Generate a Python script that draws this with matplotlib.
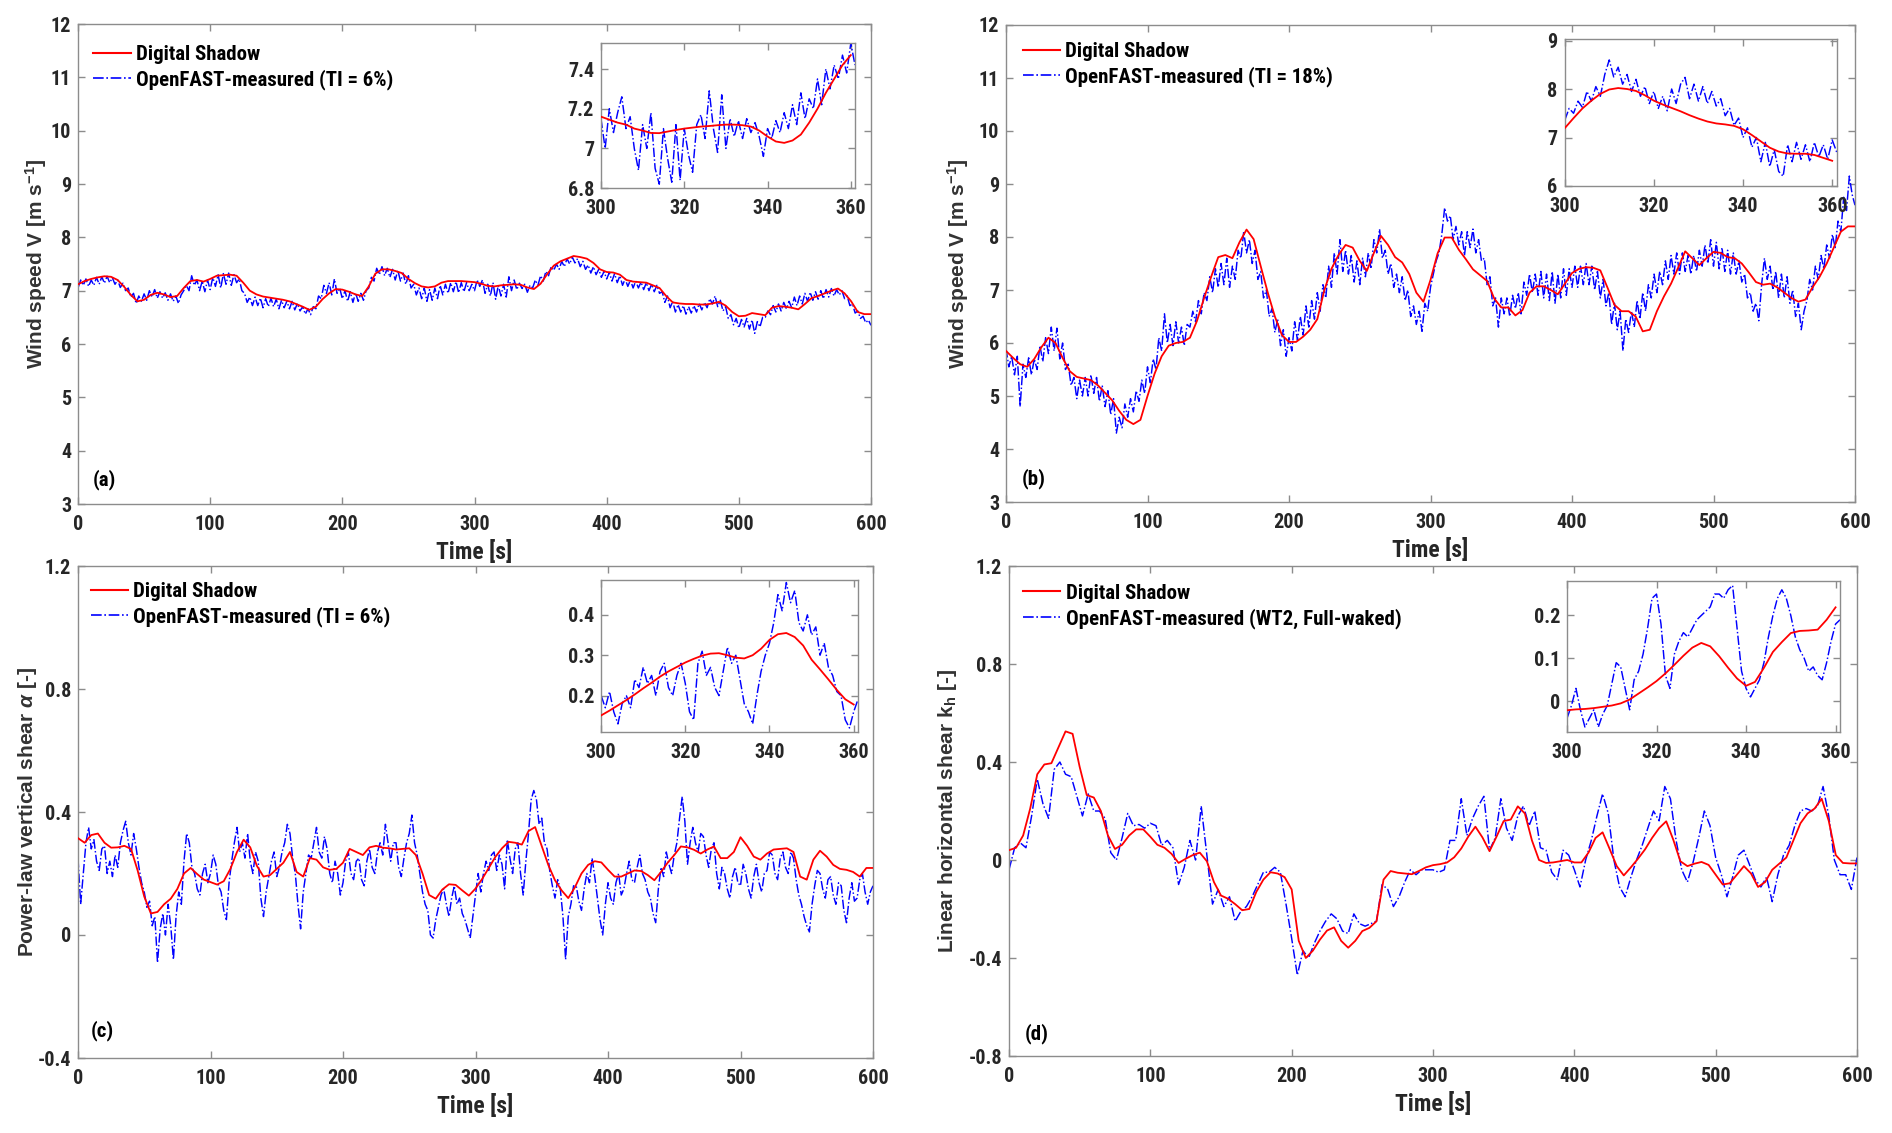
import numpy as np
import matplotlib
matplotlib.use("Agg")
import matplotlib.pyplot as plt
from matplotlib.ticker import FuncFormatter
from matplotlib.lines import Line2D

plt.rcParams['font.family'] = ['Roboto Condensed', 'Liberation Sans', 'DejaVu Sans']
plt.rcParams['font.weight'] = 'bold'
plt.rcParams['axes.labelweight'] = 'bold'
plt.rcParams['axes.unicode_minus'] = False
plt.rcParams['mathtext.fontset'] = 'custom'
plt.rcParams['mathtext.rm'] = 'Liberation Sans:bold'
plt.rcParams['mathtext.bf'] = 'Liberation Sans:bold'
plt.rcParams['mathtext.it'] = 'Liberation Sans:italic'

# ---------------- data ----------------
# Panel (a): wind speed, TI = 6 %  (red every 5 s, blue every 2 s)
red_a = [7.12, 7.18, 7.22, 7.25, 7.27, 7.26, 7.2, 7.07, 6.92, 6.8,
         6.83, 6.92, 6.96, 6.93, 6.88, 6.9, 7.05, 7.18, 7.2, 7.17,
         7.22, 7.28, 7.29, 7.3, 7.28, 7.15, 7.0, 6.93, 6.89, 6.87,
         6.85, 6.83, 6.8, 6.75, 6.7, 6.64, 6.7, 6.84, 6.95, 7.03,
         7.02, 6.98, 6.93, 6.9, 7.08, 7.32, 7.4, 7.4, 7.37, 7.33,
         7.22, 7.14, 7.08, 7.06, 7.08, 7.15, 7.18, 7.18, 7.18, 7.17,
         7.16, 7.13, 7.09, 7.08, 7.1, 7.11, 7.12, 7.11, 7.06, 7.03,
         7.13, 7.31, 7.47, 7.55, 7.6, 7.65, 7.63, 7.6, 7.52, 7.4,
         7.35, 7.34, 7.3, 7.2, 7.17, 7.16, 7.15, 7.1, 7.05, 6.9,
         6.78, 6.76, 6.75, 6.75, 6.74, 6.74, 6.76, 6.79, 6.72, 6.6,
         6.52, 6.53, 6.58, 6.56, 6.54, 6.68, 6.71, 6.7, 6.68, 6.65,
         6.75, 6.86, 6.9, 6.95, 7.0, 7.04, 6.95, 6.8, 6.6, 6.56,
         6.56]
blue_a = [7.05, 7.2, 7.1, 7.22, 7.08, 7.2, 7.1, 7.25, 7.12, 7.26,
          7.14, 7.27, 7.15, 7.24, 7.12, 7.2, 7.06, 7.14, 7.0, 7.05,
          6.88, 6.95, 6.76, 6.9, 6.8, 6.94, 6.82, 7.0, 6.88, 7.02,
          6.86, 6.98, 6.86, 6.96, 6.82, 6.94, 6.8, 6.9, 6.76, 6.92,
          7.0, 7.1, 7.0, 7.28, 7.1, 7.2, 7.0, 7.18, 6.98, 7.2,
          7.02, 7.25, 7.08, 7.3, 7.05, 7.32, 7.12, 7.33, 7.1, 7.3,
          7.15, 7.22, 7.0, 6.95, 6.78, 6.88, 6.72, 6.88, 6.72, 6.86,
          6.68, 6.85, 6.7, 6.86, 6.7, 6.84, 6.66, 6.82, 6.68, 6.8,
          6.66, 6.8, 6.64, 6.76, 6.62, 6.7, 6.56, 6.66, 6.55, 6.7,
          6.66, 6.9, 6.85, 7.1, 6.95, 7.15, 6.92, 7.22, 6.95, 7.05,
          6.85, 7.0, 6.8, 6.98, 6.78, 6.96, 6.8, 6.95, 6.82, 7.0,
          7.05, 7.25, 7.18, 7.42, 7.3, 7.45, 7.28, 7.42, 7.25, 7.4,
          7.2, 7.38, 7.18, 7.33, 7.12, 7.28, 7.05, 7.12, 6.92, 7.05,
          6.85, 7.05, 6.8, 7.02, 6.82, 7.05, 6.85, 7.1, 6.92, 7.12,
          6.95, 7.15, 6.98, 7.17, 6.96, 7.15, 6.98, 7.15, 7.0, 7.12,
          7.0, 7.2, 7.08, 7.2, 6.95, 7.12, 6.9, 7.15, 6.84, 7.1,
          6.9, 7.12, 6.88, 7.26, 7.0, 7.2, 7.02, 7.14, 7.04, 7.12,
          6.97, 7.1, 7.05, 7.2, 7.1, 7.28, 7.18, 7.36, 7.28, 7.45,
          7.38, 7.5, 7.4, 7.55, 7.45, 7.6, 7.5, 7.63, 7.52, 7.6,
          7.45, 7.55, 7.4, 7.48, 7.33, 7.45, 7.3, 7.4, 7.25, 7.36,
          7.22, 7.34, 7.18, 7.32, 7.15, 7.28, 7.1, 7.22, 7.08, 7.2,
          7.05, 7.18, 7.05, 7.16, 7.02, 7.15, 7.0, 7.12, 6.98, 7.1,
          6.95, 6.98, 6.78, 6.9, 6.68, 6.8, 6.6, 6.74, 6.6, 6.72,
          6.56, 6.7, 6.58, 6.72, 6.6, 6.76, 6.64, 6.78, 6.68, 6.85,
          6.75, 6.9, 6.7, 6.82, 6.62, 6.7, 6.48, 6.55, 6.36, 6.48,
          6.3, 6.46, 6.32, 6.48, 6.28, 6.45, 6.2, 6.42, 6.32, 6.5,
          6.5, 6.62, 6.55, 6.72, 6.6, 6.75, 6.62, 6.78, 6.66, 6.8,
          6.68, 6.88, 6.72, 6.9, 6.75, 6.95, 6.8, 6.97, 6.82, 6.98,
          6.84, 7.0, 6.85, 7.02, 6.88, 7.04, 6.9, 7.02, 6.92, 7.0,
          6.85, 6.9, 6.72, 6.75, 6.58, 6.62, 6.48, 6.52, 6.4, 6.45,
          6.35]
ired_a = [7.16, 7.145, 7.13, 7.12, 7.1, 7.09, 7.078, 7.077, 7.085, 7.093,
          7.1, 7.105, 7.11, 7.113, 7.117, 7.12, 7.12, 7.117, 7.11, 7.09,
          7.06, 7.035, 7.028, 7.04, 7.07, 7.13, 7.2, 7.28, 7.35, 7.42,
          7.47]
iblue_a = [7.15, 7.0, 7.2, 7.08, 7.18, 7.26, 7.1, 7.16, 7.0, 6.89,
           7.12, 7.0, 7.18, 6.9, 6.82, 7.1, 6.95, 6.83, 7.12, 6.84,
           7.1, 6.97, 6.88, 7.12, 7.17, 7.05, 7.29, 7.1, 6.98, 7.27,
           7.0, 7.15, 7.06, 7.14, 7.05, 7.15, 7.08, 7.13, 7.06, 6.96,
           7.1, 7.05, 7.14, 7.08, 7.18, 7.1, 7.22, 7.12, 7.28, 7.15,
           7.25, 7.2, 7.35, 7.22, 7.4, 7.3, 7.42, 7.35, 7.47, 7.38,
           7.53, 7.42]

# Panel (b): wind speed, TI = 18 %
red_b = [5.85, 5.72, 5.6, 5.55, 5.7, 5.92, 6.1, 6.0, 5.72, 5.47,
         5.36, 5.33, 5.3, 5.2, 5.06, 4.92, 4.72, 4.55, 4.47, 4.55,
         5.0, 5.42, 5.75, 5.95, 6.0, 6.02, 6.1, 6.42, 6.85, 7.25,
         7.62, 7.66, 7.6, 7.9, 8.14, 7.96, 7.45, 6.95, 6.5, 6.15,
         6.02, 6.02, 6.12, 6.25, 6.45, 7.0, 7.4, 7.66, 7.85, 7.8,
         7.55, 7.36, 7.7, 8.02, 7.85, 7.62, 7.52, 7.3, 6.95, 6.78,
         7.19, 7.69, 7.99, 7.99, 7.76, 7.58, 7.39, 7.28, 7.17, 6.84,
         6.67, 6.67, 6.52, 6.62, 6.95, 7.07, 7.07, 7.0, 6.92, 7.12,
         7.32, 7.4, 7.43, 7.42, 7.37, 7.05, 6.72, 6.6, 6.6, 6.5,
         6.22, 6.25, 6.6, 6.88, 7.12, 7.42, 7.73, 7.6, 7.47, 7.6,
         7.72, 7.7, 7.62, 7.6, 7.5, 7.33, 7.15, 7.1, 7.12, 7.05,
         6.95, 6.85, 6.78, 6.82, 7.05, 7.25, 7.5, 7.8, 8.1, 8.2,
         8.2]
blue_b = [5.9, 5.55, 5.75, 5.4, 5.75, 4.8, 5.6, 5.35, 5.72, 5.4,
          5.7, 5.5, 5.95, 5.65, 6.1, 5.8, 6.3, 5.85, 6.28, 5.7,
          6.0, 5.5, 5.6, 5.2, 5.35, 4.95, 5.3, 5.0, 5.35, 5.0,
          5.4, 5.05, 5.35, 4.9, 5.2, 4.8, 5.1, 4.65, 4.95, 4.3,
          4.6, 4.4, 4.85, 4.6, 4.95, 4.7, 5.1, 4.9, 5.3, 5.05,
          5.55, 5.25, 5.7, 5.5, 6.1, 5.85, 6.55, 6.0, 6.35, 5.95,
          6.4, 6.0, 6.3, 5.95, 6.35, 6.3, 6.6, 6.4, 6.8, 6.55,
          6.95, 6.8, 7.25, 6.95, 7.4, 7.05, 7.5, 7.1, 7.6, 7.05,
          7.45, 7.2, 7.75, 7.6, 8.1, 7.7, 7.95, 7.5, 7.75, 7.2,
          7.35, 6.85, 7.0, 6.5, 6.65, 6.2, 6.45, 5.95, 6.25, 5.75,
          6.1, 5.85, 6.4, 6.05, 6.5, 6.15, 6.7, 6.3, 6.8, 6.45,
          6.95, 6.6, 7.1, 6.85, 7.45, 7.05, 7.7, 7.3, 7.95, 7.35,
          7.75, 7.3, 7.65, 7.15, 7.55, 7.1, 7.6, 7.25, 7.7, 7.4,
          7.95, 7.7, 8.15, 7.6, 7.75, 7.3, 7.5, 7.05, 7.3, 6.95,
          7.25, 6.8, 7.0, 6.5, 6.7, 6.35, 6.6, 6.22, 6.75, 6.6,
          7.05, 7.3, 7.55, 7.7, 8.05, 8.55, 8.3, 8.4, 7.95, 8.2,
          7.85, 8.1, 7.65, 8.1, 7.8, 8.15, 7.7, 7.95, 7.55, 7.6,
          7.1, 7.25, 6.7, 6.85, 6.3, 6.85, 6.55, 6.85, 6.5, 6.9,
          6.65, 6.95, 6.55, 7.15, 6.9, 7.3, 6.95, 7.3, 6.9, 7.35,
          6.85, 7.3, 6.8, 7.35, 6.75, 7.3, 6.85, 7.4, 6.9, 7.4,
          7.05, 7.45, 7.05, 7.45, 7.1, 7.5, 7.1, 7.45, 7.0, 7.35,
          6.85, 7.2, 6.7, 6.95, 6.35, 6.75, 6.25, 6.6, 5.85, 6.45,
          6.2, 6.6, 6.3, 6.8, 6.45, 6.95, 6.6, 7.1, 6.85, 7.3,
          6.95, 7.35, 7.1, 7.55, 7.2, 7.65, 7.3, 7.7, 7.3, 7.7,
          7.35, 7.65, 7.3, 7.65, 7.35, 7.75, 7.45, 7.85, 7.5, 7.95,
          7.45, 7.9, 7.4, 7.8, 7.35, 7.75, 7.3, 7.7, 7.3, 7.55,
          7.15, 7.3, 6.85, 6.95, 6.6, 6.75, 6.42, 7.1, 7.6, 7.2,
          7.45, 7.0, 7.35, 6.85, 7.3, 6.85, 7.25, 6.75, 7.0, 6.5,
          6.75, 6.25, 6.6, 6.8, 7.2, 7.0, 7.45, 7.2, 7.65, 7.4,
          7.85, 7.6, 8.05, 7.8, 8.3, 8.1, 8.75, 8.5, 9.15, 8.8,
          8.6]
ired_b = [7.19, 7.4, 7.6, 7.76, 7.9, 7.99, 8.02, 8.0, 7.96, 7.87,
          7.76, 7.68, 7.61, 7.54, 7.46, 7.39, 7.33, 7.29, 7.27, 7.24,
          7.17, 7.05, 6.92, 6.79, 6.71, 6.67, 6.665, 6.665, 6.64, 6.58,
          6.52]
iblue_b = [7.35, 7.6, 7.5, 7.75, 7.62, 7.95, 7.75, 8.05, 7.85, 8.3,
           8.6, 8.25, 8.45, 8.1, 8.3, 7.95, 8.2, 7.85, 8.05, 7.7,
           7.95, 7.6, 7.85, 7.55, 8.0, 7.7, 8.1, 8.24, 7.8, 8.1,
           7.75, 8.05, 7.7, 7.95, 7.65, 7.8, 7.45, 7.6, 7.25, 7.4,
           7.0, 7.2, 6.8, 7.0, 6.5, 6.9, 6.4, 6.75, 6.3, 6.2,
           6.85, 6.5, 6.9, 6.55, 6.85, 6.5, 6.9, 6.6, 6.85, 6.55,
           6.95, 6.7]

# Panel (c): power-law vertical shear
red_c = [0.315, 0.3, 0.325, 0.33, 0.3, 0.284, 0.285, 0.29, 0.28, 0.21,
         0.125, 0.07, 0.075, 0.1, 0.118, 0.15, 0.2, 0.218, 0.198, 0.18,
         0.172, 0.164, 0.175, 0.215, 0.27, 0.31, 0.285, 0.225, 0.19, 0.195,
         0.215, 0.235, 0.27, 0.205, 0.19, 0.25, 0.245, 0.22, 0.212, 0.215,
         0.235, 0.28, 0.27, 0.26, 0.285, 0.29, 0.284, 0.282, 0.278, 0.28,
         0.282, 0.26, 0.2, 0.13, 0.118, 0.148, 0.165, 0.163, 0.145, 0.128,
         0.151, 0.182, 0.218, 0.254, 0.282, 0.303, 0.3, 0.294, 0.338, 0.351,
         0.289, 0.227, 0.178, 0.145, 0.12, 0.155, 0.2, 0.228, 0.24, 0.236,
         0.212, 0.19, 0.19, 0.2, 0.21, 0.208, 0.195, 0.178, 0.205, 0.235,
         0.26, 0.288, 0.285, 0.277, 0.265, 0.278, 0.288, 0.25, 0.25, 0.27,
         0.318, 0.29, 0.255, 0.245, 0.265, 0.278, 0.28, 0.282, 0.27, 0.19,
         0.18, 0.245, 0.274, 0.255, 0.228, 0.215, 0.212, 0.205, 0.19, 0.218,
         0.218]
blue_c = [0.25, 0.1, 0.2, 0.3, 0.35, 0.28, 0.31, 0.24, 0.21, 0.28,
          0.29, 0.2, 0.24, 0.19, 0.26, 0.22, 0.3, 0.34, 0.37, 0.3,
          0.26, 0.33, 0.28, 0.22, 0.17, 0.14, 0.09, 0.11, 0.03, 0.06,
          -0.09, 0.02, 0.07, 0.0, 0.1, 0.03, -0.08, 0.06, 0.14, 0.1,
          0.24, 0.33, 0.3, 0.22, 0.2, 0.15, 0.13, 0.2, 0.23, 0.17,
          0.2, 0.26, 0.23, 0.16, 0.14, 0.08, 0.05, 0.17, 0.24, 0.3,
          0.35, 0.27, 0.3, 0.25, 0.33, 0.24, 0.2, 0.27, 0.24, 0.12,
          0.06, 0.14, 0.19, 0.24, 0.27, 0.19, 0.22, 0.27, 0.3, 0.36,
          0.33, 0.25, 0.2, 0.1, 0.02, 0.14, 0.2, 0.26, 0.25, 0.3,
          0.35, 0.27, 0.25, 0.32, 0.28, 0.2, 0.17, 0.24, 0.2, 0.13,
          0.17, 0.24, 0.27, 0.2, 0.18, 0.24, 0.25, 0.18, 0.16, 0.24,
          0.28, 0.22, 0.2, 0.27, 0.3, 0.26, 0.36, 0.3, 0.24, 0.3,
          0.3, 0.22, 0.19, 0.25, 0.3, 0.33, 0.39, 0.3, 0.26, 0.2,
          0.14, 0.1, 0.08, 0.0, -0.01, 0.05, 0.09, 0.13, 0.15, 0.1,
          0.06, 0.12, 0.16, 0.1, 0.12, 0.07, 0.05, 0.02, -0.01, 0.06,
          0.13, 0.2, 0.14, 0.2, 0.24, 0.21, 0.26, 0.27, 0.21, 0.26,
          0.23, 0.15, 0.31, 0.25, 0.2, 0.28, 0.3, 0.2, 0.13, 0.24,
          0.33, 0.44, 0.47, 0.44, 0.36, 0.38, 0.3, 0.28, 0.21, 0.16,
          0.12, 0.18, 0.15, 0.06, -0.08, 0.06, 0.1, 0.16, 0.16, 0.11,
          0.08, 0.15, 0.2, 0.17, 0.25, 0.19, 0.12, 0.05, 0.0, 0.1,
          0.17, 0.12, 0.1, 0.17, 0.2, 0.13, 0.15, 0.2, 0.24, 0.18,
          0.17, 0.22, 0.26, 0.2, 0.18, 0.14, 0.12, 0.07, 0.04, 0.15,
          0.22, 0.19, 0.27, 0.23, 0.2, 0.26, 0.3, 0.38, 0.45, 0.37,
          0.23, 0.3, 0.35, 0.3, 0.27, 0.33, 0.32, 0.26, 0.22, 0.28,
          0.3, 0.2, 0.15, 0.22, 0.2, 0.15, 0.12, 0.19, 0.22, 0.17,
          0.16, 0.23, 0.2, 0.15, 0.12, 0.19, 0.23, 0.17, 0.14, 0.2,
          0.21, 0.27, 0.26, 0.2, 0.18, 0.25, 0.27, 0.22, 0.2, 0.27,
          0.25, 0.18, 0.13, 0.1, 0.06, 0.03, 0.01, 0.1, 0.16, 0.21,
          0.2, 0.15, 0.12, 0.18, 0.19, 0.13, 0.1, 0.17, 0.16, 0.08,
          0.04, 0.12, 0.17, 0.11, 0.12, 0.18, 0.2, 0.14, 0.1, 0.14,
          0.16]
ired_c = [0.151, 0.163, 0.176, 0.189, 0.203, 0.218, 0.232, 0.247, 0.26, 0.271,
          0.282, 0.291, 0.299, 0.304, 0.305, 0.3, 0.294, 0.292, 0.3, 0.316,
          0.338, 0.352, 0.355, 0.345, 0.324, 0.289, 0.265, 0.24, 0.214, 0.191,
          0.178]
iblue_c = [0.2, 0.17, 0.21, 0.16, 0.13, 0.18, 0.2, 0.17, 0.24, 0.22,
           0.27, 0.23, 0.25, 0.2, 0.26, 0.28, 0.22, 0.2, 0.25, 0.28,
           0.23, 0.16, 0.14, 0.28, 0.31, 0.25, 0.27, 0.22, 0.2, 0.26,
           0.32, 0.28, 0.3, 0.24, 0.18, 0.16, 0.13, 0.2, 0.26, 0.3,
           0.33, 0.38, 0.45, 0.41, 0.48, 0.43, 0.46, 0.38, 0.36, 0.4,
           0.35, 0.37, 0.3, 0.33, 0.27, 0.25, 0.21, 0.2, 0.14, 0.12,
           0.16, 0.19]

# Panel (d): linear horizontal shear (WT2, full-waked); blue every 4 s
red_d = [0.04, 0.05, 0.1, 0.21, 0.35, 0.39, 0.395, 0.46, 0.525, 0.515,
         0.38, 0.265, 0.255, 0.2, 0.1, 0.045, 0.062, 0.1, 0.125, 0.125,
         0.095, 0.062, 0.05, 0.025, -0.012, 0.005, 0.02, 0.03, -0.005, -0.09,
         -0.145, -0.158, -0.18, -0.205, -0.2, -0.13, -0.08, -0.05, -0.055, -0.07,
         -0.12, -0.33, -0.4, -0.37, -0.325, -0.288, -0.275, -0.33, -0.358, -0.33,
         -0.29, -0.277, -0.25, -0.08, -0.045, -0.052, -0.055, -0.058, -0.045, -0.03,
         -0.021, -0.017, -0.01, 0.011, 0.047, 0.096, 0.136, 0.092, 0.036, 0.096,
         0.159, 0.165, 0.219, 0.19, 0.08, 0.0, -0.012, -0.01, -0.005, 0.0,
         -0.01, -0.01, 0.03, 0.09, 0.113, 0.045, -0.025, -0.063, -0.03, 0.005,
         0.043, 0.09, 0.13, 0.158, 0.083, -0.005, -0.025, -0.015, -0.008, -0.02,
         -0.06, -0.1, -0.095, -0.06, -0.025, -0.055, -0.11, -0.09, -0.04, -0.015,
         0.01, 0.08, 0.15, 0.19, 0.21, 0.25, 0.16, 0.02, -0.012, -0.014,
         -0.014]
blue_d = [-0.04, 0.05, 0.07, 0.05, 0.18, 0.33, 0.23, 0.17, 0.37, 0.4,
          0.35, 0.34, 0.26, 0.18, 0.27, 0.2, 0.2, 0.17, 0.03, 0.0,
          0.09, 0.19, 0.14, 0.145, 0.13, 0.15, 0.14, 0.06, 0.08, 0.05,
          -0.1, -0.03, 0.08, 0.0, 0.22, 0.02, -0.18, -0.12, -0.19, -0.15,
          -0.25, -0.21, -0.19, -0.15, -0.1, -0.05, -0.05, -0.03, -0.05, -0.18,
          -0.32, -0.47, -0.37, -0.4, -0.34, -0.29, -0.25, -0.22, -0.24, -0.29,
          -0.3, -0.22, -0.26, -0.27, -0.26, -0.25, -0.1, -0.12, -0.19, -0.15,
          -0.09, -0.04, -0.06, -0.04, -0.04, -0.04, -0.05, -0.04, 0.08, 0.08,
          0.25, 0.1, 0.17, 0.22, 0.26, 0.04, 0.09, 0.25, 0.13, 0.08,
          0.18, 0.22, 0.14, 0.2, 0.05, 0.04, -0.05, -0.08, 0.04, 0.02,
          -0.04, -0.11, 0.0, 0.08, 0.18, 0.27, 0.19, 0.0, -0.11, -0.15,
          -0.07, 0.0, 0.06, 0.13, 0.2, 0.16, 0.3, 0.25, 0.08, -0.04,
          -0.09, -0.01, 0.09, 0.2, 0.14, 0.01, -0.06, -0.15, -0.07, 0.02,
          0.04, -0.02, -0.08, -0.11, -0.07, -0.17, -0.06, 0.02, 0.06, 0.14,
          0.2, 0.21, 0.2, 0.22, 0.3, 0.18, 0.0, -0.06, -0.06, -0.12,
          0.01]
ired_d = [-0.021, -0.019, -0.018, -0.016, -0.013, -0.01, -0.005, 0.004, 0.018, 0.032,
          0.047, 0.065, 0.085, 0.106, 0.125, 0.136, 0.128, 0.105, 0.078, 0.053,
          0.036, 0.045, 0.078, 0.115, 0.138, 0.159, 0.164, 0.165, 0.167, 0.19,
          0.219]
iblue_d = [-0.04, -0.01, 0.03, -0.02, -0.06, -0.04, -0.02, -0.06, -0.03, -0.01,
           0.04, 0.09, 0.08, 0.03, -0.02, 0.05, 0.07, 0.11, 0.17, 0.24,
           0.25, 0.18, 0.06, 0.03, 0.11, 0.14, 0.16, 0.15, 0.17, 0.19,
           0.2, 0.21, 0.22, 0.25, 0.25, 0.24, 0.26, 0.27, 0.17, 0.07,
           0.03, 0.01, 0.03, 0.05, 0.09, 0.15, 0.2, 0.24, 0.26, 0.24,
           0.2, 0.15, 0.12, 0.1, 0.07, 0.08, 0.06, 0.05, 0.09, 0.14,
           0.18, 0.19]

legend_red = "Digital Shadow"
legend_blue = ["OpenFAST-measured (TI = 6%)", "OpenFAST-measured (TI = 18%)",
               "OpenFAST-measured (TI = 6%)", "OpenFAST-measured (WT2, Full-waked)"]
ylabels = [r"Wind speed V [m s$^{\mathbf{-1}}$]", r"Wind speed V [m s$^{\mathbf{-1}}$]",
           r"Power-law vertical shear $\alpha$ [-]", r"Linear horizontal shear k$_{\mathbf{h}}$ [-]"]
letters = ["(a)", "(b)", "(c)", "(d)"]
main_xticks = [0, 100, 200, 300, 400, 500, 600]
inset_xticks = [300, 320, 340, 360]
main_yticks = [list(range(3, 13)), list(range(3, 13)),
               [-0.4, 0, 0.4, 0.8, 1.2], [-0.8, -0.4, 0, 0.4, 0.8, 1.2]]
main_ylims = [(3, 12), (3, 12), (-0.4, 1.2), (-0.8, 1.2)]
inset_yticks = [[6.8, 7, 7.2, 7.4], [6, 7, 8, 9], [0.2, 0.3, 0.4], [0, 0.1, 0.2]]
inset_ylims = [(6.8, 7.53), (6, 9.03), (0.11, 0.485), (-0.072, 0.28)]

# ---------------- layout ----------------
W, H = 1892, 1133
fig = plt.figure(figsize=(W / 100, H / 100), dpi=100)
rects = [[78 / W, 1 - 504 / H, 793 / W, 480 / H],
         [1006 / W, 1 - 502 / H, 849 / W, 477 / H],
         [78 / W, 1 - 1058 / H, 795 / W, 492 / H],
         [1009 / W, 1 - 1056 / H, 848 / W, 490 / H]]
inset_rects = [[0.6595, 0.658, 0.3203, 0.302],
               [0.658, 0.6625, 0.3204, 0.308],
               [0.658, 0.6626, 0.323, 0.308],
               [0.658, 0.661, 0.322, 0.308]]
ylabel_x = [-0.053, -0.057, -0.064, -0.073]
legend_anchor = [(0.0195, 0.956), (0.0196, 0.964), (0.016, 0.967), (0.0165, 0.964)]
letter_pos = [(0.019, 0.05), (0.018, 0.048), (0.0157, 0.056), (0.018, 0.045)]

SPINE = '#8c8c8c'
TXT = '#262626'
RED = '#ff0000'
BLUE = '#0000ff'

fmt = FuncFormatter(lambda v, p: ('%g' % round(v, 6)))


def style(ax, fs):
    for s in ax.spines.values():
        s.set_color(SPINE)
        s.set_linewidth(1.0)
    ax.tick_params(direction='in', top=True, right=True, length=5, width=1,
                   color=SPINE, labelcolor=TXT, labelsize=fs)
    ax.tick_params(axis='x', pad=8)
    ax.tick_params(axis='y', pad=5)
    ax.xaxis.set_major_formatter(fmt)
    ax.yaxis.set_major_formatter(fmt)
    for lab in ax.get_xticklabels() + ax.get_yticklabels():
        lab.set_fontweight('bold')


reds = [red_a, red_b, red_c, red_d]
blues = [blue_a, blue_b, blue_c, blue_d]
ireds = [ired_a, ired_b, ired_c, ired_d]
iblues = [iblue_a, iblue_b, iblue_c, iblue_d]

for i in range(4):
    ax = fig.add_axes(rects[i])
    t_red = np.linspace(0, 600, len(reds[i]))
    t_blue = np.linspace(0, 600, len(blues[i]))
    ax.plot(t_blue, blues[i], color=BLUE, ls='-.', lw=1.05, zorder=2)
    ax.plot(t_red, reds[i], color=RED, ls='-', lw=1.3, zorder=3)
    ax.set_xlim(0, 600)
    ax.set_ylim(*main_ylims[i])
    ax.set_xticks(main_xticks)
    ax.set_yticks(main_yticks[i])
    style(ax, 14.5)
    ax.set_xlabel("Time [s]", fontsize=17, color=TXT, labelpad=4, fontweight='bold')
    ax.set_ylabel(ylabels[i], fontsize=15, color='#333333', fontweight='bold',
                  family=['Liberation Sans', 'DejaVu Sans'], va='center')
    ax.yaxis.set_label_coords(ylabel_x[i], 0.5)
    ax.legend([Line2D([], [], color=RED, lw=1.5),
               Line2D([], [], color=BLUE, lw=1.2, ls='-.')],
              [legend_red, legend_blue[i]], loc='upper left',
              bbox_to_anchor=legend_anchor[i], frameon=False, borderpad=0,
              borderaxespad=0, handlelength=1.8, handletextpad=0.25,
              labelspacing=0.25, prop={'size': 15, 'weight': 'bold'})
    ax.text(letter_pos[i][0], letter_pos[i][1], letters[i], transform=ax.transAxes,
            fontsize=15, fontweight='bold', color='black', va='center', ha='left')

    axin = ax.inset_axes(inset_rects[i])
    ti_red = np.linspace(300, 360, len(ireds[i]))
    ti_blue = np.linspace(300, 361, len(iblues[i]))
    axin.plot(ti_blue, iblues[i], color=BLUE, ls='-.', lw=1.05, zorder=2)
    axin.plot(ti_red, ireds[i], color=RED, ls='-', lw=1.3, zorder=3)
    axin.set_xlim(300, 361)
    axin.set_ylim(*inset_ylims[i])
    axin.set_xticks(inset_xticks)
    axin.set_yticks(inset_yticks[i])
    style(axin, 14.5)
    axin.set_facecolor('white')

fig.savefig("out.png", dpi=100)
